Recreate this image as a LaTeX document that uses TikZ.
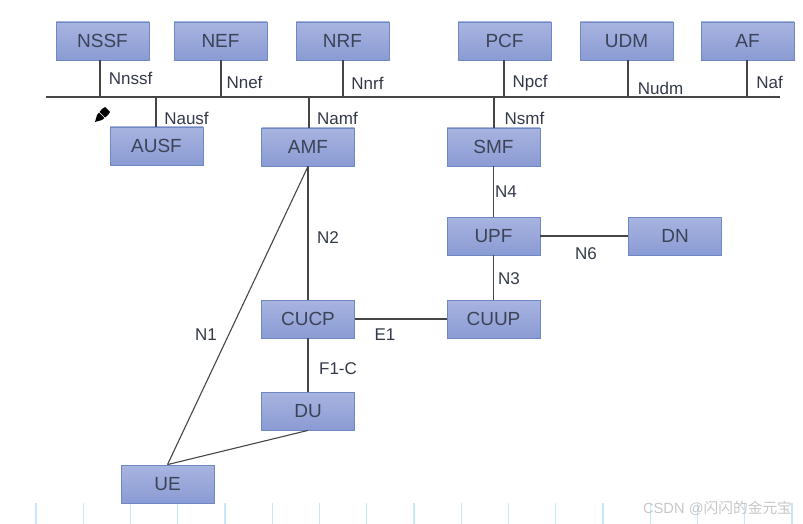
\documentclass[tikz,border=0pt]{standalone}
\usepackage{fontspec}
\setmainfont{Liberation Sans}
\newfontfamily\cjkfont{Noto Sans CJK SC}
\definecolor{boxline}{HTML}{6F88C4}
\definecolor{boxtop}{HTML}{A8B4E0}
\definecolor{boxbot}{HTML}{8A9BD4}
\definecolor{boxtext}{HTML}{3C4356}
\definecolor{wire}{HTML}{454545}
\definecolor{tick}{HTML}{C4E8FC}

\tikzstyle{nfbox} = [draw=boxline, top color=boxtop, bottom color=boxbot, line width=0.8pt,
    rectangle, minimum width=93pt, minimum height=38pt, inner sep=0pt,
    text=boxtext, font=\fontsize{19}{19}\selectfont]
\tikzstyle{iflabel} = [inner sep=0pt, text=boxtext!85!black, font=\fontsize{17}{17}\selectfont]
\tikzstyle{wireline} = [draw=wire, line width=1.1pt]

\begin{document}
\begin{tikzpicture}[x=1pt,y=-1pt]
\useasboundingbox (0,0) rectangle (803,524);
% bottom strip
\foreach \k in {0,...,16}
    \draw [tick, line width=1.1pt] (36+47.25*\k,503) -- (36+47.25*\k,524);
% functions
\node [nfbox] (nssf) at (102.5,41) {NSSF};
\node [nfbox] (nef) at (220.5,41) {NEF};
\node [nfbox] (nrf) at (342.5,41) {NRF};
\node [nfbox] (pcf) at (504.5,41) {PCF};
\node [nfbox] (udm) at (626.5,41) {UDM};
\node [nfbox] (af) at (747.5,41) {AF};
\node [nfbox] (ausf) at (156.5,146) {AUSF};
\node [nfbox] (amf) at (308,147) {AMF};
\node [nfbox] (smf) at (493.5,147) {SMF};
\node [nfbox] (upf) at (493.5,236) {UPF};
\node [nfbox] (dn) at (675,236) {DN};
\node [nfbox] (cuup) at (493.5,319) {CUUP};
\node [nfbox] (cucp) at (308,319) {CUCP};
\node [nfbox] (du) at (308,411) {DU};
\node [nfbox] (ue) at (167.5,484) {UE};
% bus
\coordinate (busl) at (46,97);
\coordinate (busr) at (780,97);
\draw [wireline] (busl) -- (busr);
\foreach \name/\off in {nssf/-2.5,nef/0.5,nrf/0.5,pcf/-0.5,udm/1.5,af/-0.5}
    \draw [wireline] ([xshift=\off pt]\name.south) -- ([xshift=\off pt]\name.south |- busl);
\foreach \name/\off in {ausf/-0.5,amf/1,smf/0.5}
    \draw [wireline] ([xshift=\off pt]\name.north) -- ([xshift=\off pt]\name.north |- busl);
% links
\draw [wireline] (amf.south) -- (cucp.north);
\draw [wireline] (amf.south) -- (ue.north);
\draw [wireline] (cucp) -- (du);
\draw [wireline] (du.south) -- (ue.north);
\draw [wireline] (cucp) -- (cuup);
\draw [wireline] (smf) -- (upf);
\draw [wireline] (upf) -- (cuup);
\draw [wireline] (upf) -- (dn);
% labels
\node [iflabel] (lnssf) at (130.5,78) {Nnssf};
\node [iflabel] (lnef) at (244.5,82) {Nnef};
\node [iflabel] (lnrf) at (367.5,83) {Nnrf};
\node [iflabel] (lausf) at (186.5,118) {Nausf};
\node [iflabel] (lamf) at (337.5,118) {Namf};
\node [iflabel] (lpcf) at (530,83) {Npcf};
\node [iflabel] (ludm) at (660.5,88) {Nudm};
\node [iflabel] (laf) at (769.5,82) {Naf};
\node [iflabel] (lsmf) at (524.5,118) {Nsmf};
\node [iflabel] (ln4) at (506,192) {N4};
\node [iflabel] (ln2) at (328,238) {N2};
\node [iflabel] (ln3) at (509,279) {N3};
\node [iflabel] (ln6) at (586,254) {N6};
\node [iflabel] (le1) at (385,335) {E1};
\node [iflabel] (lf1c) at (338,369) {F1-C};
\node [iflabel] (ln1) at (206,335) {N1};
% pen cursor
\fill [black] (95,122) -- (97,115) -- (102,109) -- (105,107) -- (110,112) -- (108,115) -- (102,120) -- cycle;
\draw [white, line width=0.6pt] (99,112) -- (105,118);
% watermark
\node [inner sep=0pt, text=black!22, font=\fontsize{14.7}{15}\selectfont] (mark) at (717.5,508) {CSDN @{\cjkfont 闪闪的金元宝}};
\end{tikzpicture}
\end{document}
